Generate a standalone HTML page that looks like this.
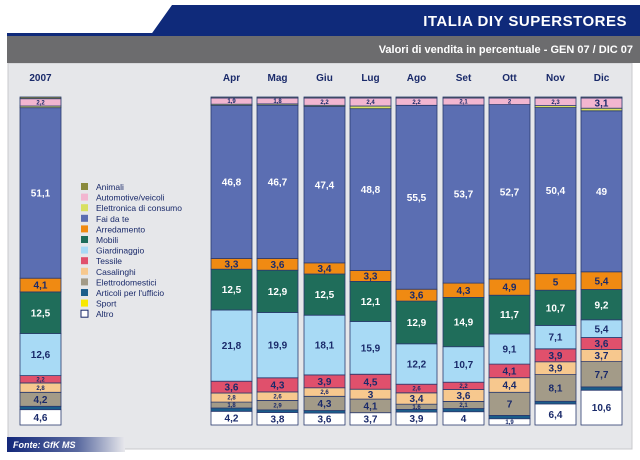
<!DOCTYPE html>
<html><head><meta charset="utf-8"><style>
body{margin:0;width:640px;height:455px;overflow:hidden;background:#fff;font-family:"Liberation Sans",sans-serif;}
</style></head><body>
<svg width="640" height="455" xmlns="http://www.w3.org/2000/svg" font-family="Liberation Sans, sans-serif">
<defs><linearGradient id="g" x1="0" x2="1"><stop offset="0" stop-color="#13287a"/><stop offset="0.6" stop-color="#5a6aa0"/><stop offset="1" stop-color="#e8e8ec"/></linearGradient></defs>
<rect x="0" y="0" width="640" height="455" fill="#fff"/>
<rect x="8" y="63" width="624" height="386" fill="#e6e7ea" stroke="#c8c8cc"/>
<polygon points="172,5 640,5 640,36 150,36" fill="#0f2a7a"/>
<rect x="7" y="33" width="150" height="3" fill="#0f2a7a"/>
<text x="627" y="26" text-anchor="end" fill="#fff" font-weight="bold" font-size="15" letter-spacing="0.5">ITALIA DIY SUPERSTORES</text>
<rect x="7" y="36" width="633" height="27" fill="#6c6c6e"/>
<text x="633" y="53" text-anchor="end" fill="#fff" font-weight="bold" font-size="11">Valori di vendita in percentuale -  GEN 07 / DIC 07</text>
<g id="bars"></g>
<rect x="7" y="437" width="118" height="15" fill="url(#g)"/>
<text x="13" y="448" fill="#fff" font-size="9" font-style="italic" font-weight="bold">Fonte: GfK MS</text>
</svg>
<script>
(function(){
var C={an:"#8a8a3c",au:"#f2b6d0",el:"#d8e060",fa:"#5b6eb2",ar:"#f08a12",mo:"#1f6d5a",gi:"#a8daf5",te:"#e0506c",ca:"#f7c88e",ed:"#a39b88",ac:"#1a5d8a",sp:"#f8e800",al:"#ffffff"};
var dark={fa:1,mo:1};
var order=["al","sp","ac","ed","ca","te","gi","mo","ar","fa","el","au","an"];
var D=[
["2007",20,{al:4.6,ac:1,ed:4.2,ca:2.8,te:2.2,gi:12.6,mo:12.5,ar:4.1,fa:51.1,el:.5,au:2.2,an:.5}],
["Apr",211,{al:4.2,ac:1,ed:1.8,ca:2.8,te:3.6,gi:21.8,mo:12.5,ar:3.3,fa:46.8,el:.4,au:1.9,an:.3}],
["Mag",257,{al:3.8,ac:.8,ed:2.9,ca:2.6,te:4.3,gi:19.9,mo:12.9,ar:3.6,fa:46.7,el:.4,au:1.8,an:.3}],
["Giu",304,{al:3.6,ac:.8,ed:4.3,ca:2.6,te:3.9,gi:18.1,mo:12.5,ar:3.4,fa:47.4,el:.4,au:2.2,an:.3}],
["Lug",350,{al:3.7,el:.8,ed:4.1,ca:3,te:4.5,gi:15.9,mo:12.1,ar:3.3,fa:48.8,au:2.4,an:.3}],
["Ago",396,{al:3.9,ac:.8,ed:1.6,ca:3.4,te:2.6,gi:12.2,mo:12.9,ar:3.6,fa:55.5,au:2.2,an:.3}],
["Set",443,{al:4,ac:1,ed:2.1,ca:3.6,te:2.2,gi:10.7,mo:14.9,ar:4.3,fa:53.7,au:2.1,an:.3}],
["Ott",489,{al:1.9,ac:1,ed:7,ca:4.4,te:4.1,gi:9.1,mo:11.7,ar:4.9,fa:52.7,au:2,an:.3}],
["Nov",535,{al:6.4,ac:.8,ed:8.1,ca:3.9,te:3.9,gi:7.1,mo:10.7,ar:5,fa:50.4,el:.6,au:2.3,an:.3}],
["Dic",581,{al:10.6,ac:1,ed:7.7,ca:3.7,te:3.6,gi:5.4,mo:9.2,ar:5.4,fa:49,el:.8,au:3.1,an:.3}]];
var s="",y0=97,bot=425,W=41;
D.forEach(function(b){
 var x=b[1],v=b[2],tot=0;order.forEach(function(k){if(v[k])tot+=v[k];});
 var sc=(bot-y0)/tot,y=bot;
 s+='<text x="'+(x+W/2)+'" y="81" text-anchor="middle" fill="#1a2a6a" font-weight="bold" font-size="10">'+b[0]+'</text>';
 order.forEach(function(k){if(!v[k])return;var h=v[k]*sc;y-=h;
  s+='<rect x="'+x+'" y="'+y.toFixed(1)+'" width="'+W+'" height="'+h.toFixed(1)+'" fill="'+C[k]+'" stroke="#2a3a6e" stroke-width="0.8"/>';
  if(["ac","el","an","sp"].indexOf(k)<0){var lab=(""+v[k]).replace(".",",");var fs=v[k]>=3?10:6;
   s+='<text x="'+(x+W/2)+'" y="'+(y+h/2+fs*0.36).toFixed(1)+'" text-anchor="middle" font-weight="bold" font-size="'+fs+'" fill="'+(dark[k]?"#fff":"#1a2a6a")+'">'+lab+'</text>';}
 });
});
var names=[["an","Animali"],["au","Automotive/veicoli"],["el","Elettronica di consumo"],["fa","Fai da te"],["ar","Arredamento"],["mo","Mobili"],["gi","Giardinaggio"],["te","Tessile"],["ca","Casalinghi"],["ed","Elettrodomestici"],["ac","Articoli per l'ufficio"],["sp","Sport"],["al","Altro"]];
names.forEach(function(n,i){var y=183+i*10.6;
 s+='<rect x="81" y="'+y+'" width="7" height="7" fill="'+C[n[0]]+'"'+(n[0]=="al"?' stroke="#1a2a6a"':'')+'/>';
 s+='<text x="96" y="'+(y+7)+'" font-size="8.5" fill="#1a2a6a">'+n[1]+'</text>';});
document.getElementById("bars").innerHTML=s;
})();
</script>
</body></html>
